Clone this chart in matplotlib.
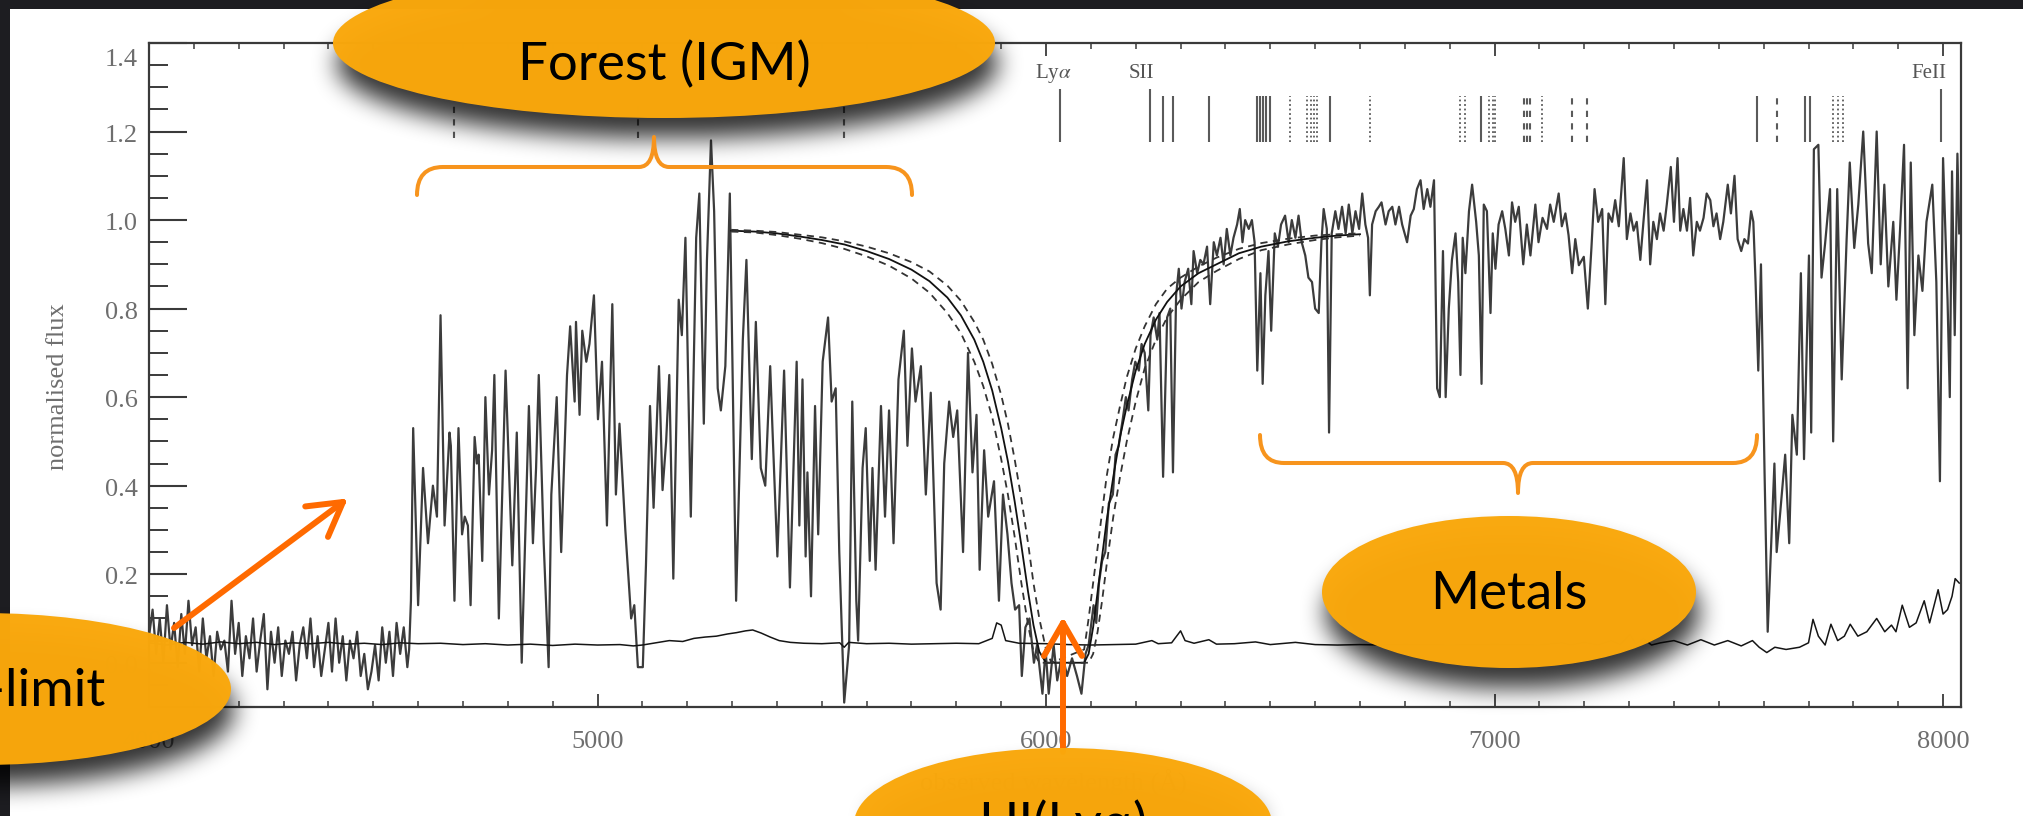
import numpy as np
import matplotlib
matplotlib.use("Agg")
import matplotlib.pyplot as plt
from matplotlib.patches import Ellipse, Rectangle, PathPatch
from matplotlib.path import Path
from matplotlib.ticker import MultipleLocator

plt.rcParams['mathtext.fontset'] = 'stix'

# ---------------------------------------------------------------- data
spec_lyman_limit = [
    (4000, 0.06), (4008, 0.12), (4016, 0.02), (4024, 0.10), (4032, 0.00), (4040, 0.13),
    (4048, 0.03), (4056, 0.09), (4064, -0.01), (4072, 0.11), (4080, 0.02), (4088, 0.14),
    (4096, 0.04), (4104, 0.08), (4112, -0.02), (4120, 0.10), (4128, 0.01), (4136, 0.06),
    (4144, -0.03), (4152, 0.07), (4160, 0.03), (4168, 0.05), (4176, -0.02), (4184, 0.14),
    (4192, 0.02), (4200, 0.09), (4208, -0.03), (4216, 0.06), (4224, 0.01), (4232, 0.10),
    (4240, -0.02), (4248, 0.05), (4256, 0.11), (4264, -0.06), (4272, 0.07), (4280, 0.00),
    (4288, 0.08), (4296, -0.03), (4304, 0.05), (4312, 0.02), (4320, 0.07), (4328, -0.04),
    (4336, 0.04), (4344, 0.08), (4352, 0.01), (4360, 0.10), (4368, -0.01), (4376, 0.06),
    (4384, -0.03), (4392, 0.03), (4400, 0.09), (4408, -0.02), (4416, 0.10), (4424, 0.00),
    (4432, 0.06), (4440, -0.04), (4448, 0.05), (4456, 0.01), (4464, 0.07), (4472, -0.03),
    (4480, 0.02), (4488, -0.06), (4496, -0.02), (4504, 0.04), (4512, -0.04), (4520, 0.08),
    (4528, 0.00), (4536, 0.07), (4544, -0.03), (4552, 0.09), (4560, 0.02), (4568, 0.08),
    (4576, -0.01),
]
spec_forest = [
    (4580, 0.03), (4584, 0.14), (4589, 0.53), (4600, 0.13), (4611, 0.44), (4622, 0.27),
    (4633, 0.40), (4642, 0.33), (4650, 0.785), (4659, 0.31), (4670, 0.52), (4673, 0.49),
    (4681, 0.14), (4690, 0.53), (4698, 0.29), (4704, 0.33), (4711, 0.31), (4717, 0.13),
    (4726, 0.51), (4731, 0.45), (4735, 0.47), (4743, 0.23), (4750, 0.60), (4758, 0.38),
    (4765, 0.48), (4770, 0.65), (4780, 0.10), (4795, 0.66), (4810, 0.22), (4820, 0.52),
    (4831, 0.00), (4847, 0.58), (4856, 0.27), (4863, 0.44), (4869, 0.65), (4880, 0.27),
    (4891, -0.01), (4897, 0.38), (4909, 0.60), (4919, 0.25), (4932, 0.65), (4939, 0.76),
    (4949, 0.59), (4952, 0.77), (4960, 0.56), (4966, 0.75), (4975, 0.68), (4982, 0.72),
    (4992, 0.83), (5001, 0.55), (5010, 0.68), (5021, 0.31), (5033, 0.81), (5041, 0.38),
    (5049, 0.54), (5062, 0.30), (5075, 0.10), (5082, 0.13), (5090, -0.01), (5101, -0.01),
    (5108, 0.22), (5117, 0.58), (5125, 0.35), (5137, 0.67), (5145, 0.39), (5153, 0.50),
    (5160, 0.65), (5169, 0.19), (5181, 0.82), (5188, 0.74), (5196, 0.96), (5208, 0.33),
    (5220, 0.96), (5227, 1.06), (5237, 0.54), (5244, 0.91), (5253, 1.18), (5260, 1.02),
    (5268, 0.62), (5275, 0.57), (5285, 0.67), (5295, 1.06), (5309, 0.14), (5324, 0.73),
    (5332, 0.91), (5344, 0.46), (5353, 0.77), (5364, 0.44), (5374, 0.40), (5385, 0.67),
    (5390, 0.53), (5401, 0.24), (5416, 0.66), (5429, 0.17), (5444, 0.68), (5450, 0.31),
    (5457, 0.64), (5464, 0.24), (5468, 0.43), (5476, 0.15), (5485, 0.58), (5492, 0.29),
    (5502, 0.68), (5514, 0.78), (5522, 0.59), (5531, 0.62), (5539, 0.25), (5550, -0.09),
    (5561, 0.04), (5568, 0.59), (5577, 0.14), (5581, 0.05), (5591, 0.44), (5598, 0.53),
    (5607, 0.23), (5613, 0.44), (5620, 0.21), (5632, 0.58), (5641, 0.33), (5650, 0.57),
    (5660, 0.27), (5671, 0.64), (5683, 0.75), (5691, 0.49), (5701, 0.71), (5709, 0.59),
    (5721, 0.67), (5732, 0.38), (5743, 0.61), (5756, 0.18), (5765, 0.12), (5773, 0.45),
    (5784, 0.59), (5793, 0.51), (5802, 0.57), (5815, 0.25), (5826, 0.70), (5836, 0.43),
    (5845, 0.56), (5852, 0.21), (5862, 0.48), (5871, 0.33), (5884, 0.41), (5895, 0.14),
    (5904, 0.38), (5914, 0.29), (5923, 0.18), (5931, 0.12), (5940, 0.13), (5946, -0.03),
    (5954, 0.08), (5963, 0.10), (5973, 0.00), (5980, 0.04),
]
spec_dla = [
    (5992, -0.07), (5999, 0.03), (6006, -0.07), (6017, 0.04), (6025, -0.04), (6036, 0.02),
    (6047, -0.03), (6058, 0.01), (6069, -0.03), (6079, -0.07), (6088, 0.02), (6095, 0.04),
    (6106, 0.13), (6112, 0.09), (6118, 0.18), (6125, 0.23), (6132, 0.25), (6140, 0.36),
    (6149, 0.38), (6155, 0.47), (6162, 0.49), (6171, 0.55), (6178, 0.60), (6184, 0.57),
    (6192, 0.64), (6199, 0.68), (6207, 0.66), (6213, 0.72), (6220, 0.70), (6228, 0.57),
    (6233, 0.74), (6240, 0.78), (6248, 0.73), (6253, 0.79), (6261, 0.42), (6270, 0.78),
    (6277, 0.80), (6283, 0.43), (6290, 0.83), (6296, 0.89), (6302, 0.80), (6309, 0.86),
    (6317, 0.89), (6324, 0.81), (6329, 0.93), (6337, 0.88), (6344, 0.91), (6351, 0.90),
    (6359, 0.94), (6366, 0.81), (6374, 0.95), (6381, 0.92), (6389, 0.96), (6396, 0.90),
    (6403, 0.98), (6411, 0.92), (6418, 0.96), (6426, 0.99), (6432, 1.025), (6438, 0.95),
    (6444, 1.00), (6452, 0.98), (6459, 1.00), (6465, 0.95),
]
spec_metals = [
    (6471, 0.66), (6478, 0.88), (6483, 0.63), (6489, 0.83), (6496, 0.93), (6502, 0.75),
    (6510, 0.97), (6517, 0.94), (6524, 0.99), (6533, 1.01), (6541, 0.95), (6548, 1.00),
    (6556, 0.96), (6563, 1.01), (6570, 0.95), (6578, 0.92), (6585, 0.87), (6593, 0.86),
    (6600, 0.80), (6608, 0.79), (6614, 0.95), (6619, 1.025), (6626, 0.98), (6631, 0.52),
    (6637, 0.97), (6645, 1.02), (6652, 0.98), (6660, 1.03), (6668, 0.97), (6675, 1.035),
    (6683, 0.97), (6690, 1.02), (6698, 0.98), (6705, 1.06), (6712, 0.99), (6718, 0.96),
    (6722, 0.83), (6727, 0.99), (6735, 1.02), (6742, 1.03), (6748, 1.04), (6757, 0.99),
    (6764, 1.02), (6772, 1.03), (6779, 0.99), (6787, 1.03), (6794, 0.99), (6805, 0.95),
    (6813, 1.01), (6820, 1.025), (6827, 1.07), (6835, 1.09), (6842, 1.025), (6850, 1.07),
    (6857, 1.03), (6865, 1.09), (6872, 0.62), (6878, 0.60), (6885, 0.93), (6891, 0.60),
    (6898, 0.80), (6905, 0.91), (6913, 0.97), (6919, 0.86), (6924, 0.65), (6929, 0.96),
    (6935, 0.88), (6943, 1.02), (6950, 1.08), (6959, 0.996), (6965, 0.92), (6971, 0.63),
    (6976, 1.035), (6983, 1.02), (6991, 0.79), (6996, 0.97), (7002, 0.89), (7009, 0.99),
    (7017, 1.02), (7024, 0.98), (7032, 0.92), (7039, 1.04), (7046, 0.996), (7054, 1.03),
    (7064, 0.90), (7072, 0.99), (7080, 0.92), (7091, 1.035), (7098, 0.95), (7107, 1.005),
    (7117, 0.98), (7124, 1.035), (7132, 0.996), (7143, 1.06), (7150, 0.986), (7158, 1.015),
    (7165, 0.966), (7173, 0.88), (7180, 0.957), (7188, 0.898), (7199, 0.917), (7208, 0.80),
    (7216, 0.937), (7223, 1.07), (7231, 0.996), (7240, 1.025), (7247, 0.81), (7254, 1.015),
    (7262, 0.996), (7269, 1.045), (7277, 0.986), (7288, 1.14), (7295, 0.957), (7303, 1.015),
    (7310, 0.976), (7317, 0.996), (7325, 0.91), (7332, 0.996), (7340, 1.09), (7347, 0.90),
    (7354, 0.996), (7362, 0.957), (7369, 1.015), (7377, 0.976), (7384, 1.035), (7393, 1.12),
    (7400, 0.996), (7408, 1.14), (7414, 0.976), (7421, 1.025), (7429, 0.976), (7436, 1.05),
    (7443, 0.92), (7451, 0.996), (7458, 0.976), (7466, 1.005), (7473, 1.06), (7481, 1.045),
    (7488, 0.986), (7495, 1.015), (7503, 0.957), (7510, 0.996), (7520, 1.08), (7527, 1.015),
    (7535, 1.10), (7542, 0.957), (7550, 0.93), (7557, 0.957), (7565, 0.947), (7572, 1.02),
    (7577, 0.996),
]
spec_red = [
    (7582, 0.86), (7588, 0.66), (7594, 0.90), (7602, 0.43), (7609, 0.07), (7616, 0.25),
    (7624, 0.45), (7629, 0.25), (7637, 0.34), (7648, 0.47), (7657, 0.27), (7664, 0.56),
    (7674, 0.47), (7683, 0.88), (7690, 0.46), (7701, 0.92), (7706, 0.52), (7712, 1.16),
    (7722, 1.17), (7729, 0.87), (7737, 0.947), (7748, 1.07), (7755, 0.50), (7764, 1.07),
    (7774, 0.64), (7785, 0.957), (7792, 1.13), (7802, 0.937), (7811, 1.035), (7822, 1.20),
    (7833, 0.947), (7841, 0.88), (7852, 1.20), (7861, 0.90), (7869, 1.08), (7878, 0.85),
    (7889, 0.996), (7896, 0.82), (7904, 0.976), (7913, 1.17), (7921, 0.62), (7928, 1.13),
    (7936, 0.74), (7945, 0.92), (7954, 0.84), (7963, 0.996), (7976, 1.08), (7985, 0.86),
    (7993, 0.41), (8000, 1.14), (8010, 0.82), (8015, 0.60), (8020, 1.11), (8026, 0.74),
    (8032, 1.15), (8036, 0.97),
]
sigma_spec = [
    (4000, .045), (4040, .040), (4080, .046), (4120, .042), (4160, .047), (4200, .043),
    (4240, .046), (4280, .041), (4320, .045), (4360, .043), (4400, .046), (4440, .042),
    (4480, .044), (4520, .041), (4560, .045), (4600, .043), (4650, .044), (4700, .041),
    (4750, .043), (4800, .040), (4850, .042), (4900, .039), (4950, .042), (5000, .040),
    (5050, .041), (5080, .038), (5100, .040), (5130, .045), (5160, .050), (5190, .048),
    (5215, .055), (5240, .058), (5265, .060), (5290, .065), (5310, .068), (5330, .072),
    (5346, .074), (5365, .067), (5385, .058), (5405, .050), (5430, .046), (5460, .044),
    (5500, .043), (5540, .045), (5550, .035), (5560, .046), (5600, .043), (5650, .044),
    (5700, .042), (5750, .043), (5800, .044), (5850, .043), (5880, .055), (5890, .090),
    (5900, .085), (5910, .050), (5940, .044), (6000, .043), (6050, .041), (6100, .040),
    (6150, .041), (6200, .042), (6236, .050), (6250, .043), (6280, .045), (6300, .072),
    (6310, .050), (6330, .044), (6363, .052), (6380, .042), (6420, .043), (6467, .047),
    (6500, .041), (6556, .046), (6600, .041), (6650, .040), (6700, .041), (6750, .040),
    (6800, .041), (6900, .040), (7000, .041), (7100, .040), (7150, .045), (7170, .040),
    (7200, .046), (7230, .040), (7260, .050), (7280, .041), (7302, .064), (7315, .042),
    (7332, .055), (7350, .040), (7370, .045), (7400, .050), (7430, .040), (7460, .052),
    (7490, .040), (7520, .050), (7550, .038), (7575, .050), (7590, .035), (7607, .023),
    (7625, .035), (7650, .030), (7680, .035), (7700, .045), (7710, .098), (7722, .060),
    (7737, .040), (7750, .087), (7765, .050), (7780, .060), (7793, .087), (7810, .060),
    (7830, .070), (7852, .100), (7870, .070), (7885, .085), (7895, .070), (7909, .130),
    (7925, .080), (7940, .090), (7958, .140), (7970, .090), (7989, .165), (8000, .110),
    (8010, .120), (8020, .150), (8027, .190), (8036, .180),
]
# Voigt-profile fit (solid) and its two error envelopes (dashed)
model_wave = [5298, 5350, 5400, 5450, 5500, 5550, 5600, 5650, 5700, 5740, 5780, 5810,
              5840, 5860, 5880, 5900, 5915, 5930, 5945, 5960, 5972, 5985, 6000, 6012,
              6085, 6095, 6105, 6115, 6125, 6135, 6150, 6165, 6180, 6200, 6220, 6245,
              6270, 6300, 6340, 6380, 6430, 6480, 6540, 6600, 6650, 6700]
model_flux = [.976, .974, .970, .963, .955, .945, .930, .912, .888, .862, .825, .785,
              .730, .680, .615, .530, .455, .365, .265, .160, .085, .025, .000, .000,
              .000, .020, .080, .160, .240, .320, .420, .510, .580, .660, .720, .775,
              .815, .850, .880, .900, .925, .940, .952, .960, .965, .968]
model_upper = [.978, .976, .973, .967, .961, .952, .940, .925, .905, .884, .852, .818,
               .770, .730, .675, .605, .540, .460, .370, .270, .180, .100, .030, .000,
               .030, .100, .180, .260, .340, .420, .510, .580, .645, .710, .760, .810,
               .845, .870, .895, .915, .935, .948, .958, .965, .968, .970]
model_lower = [.974, .972, .966, .958, .948, .935, .918, .897, .868, .836, .790, .745,
               .680, .625, .555, .460, .380, .285, .180, .085, .025, .000, .000, .000,
               .000, .000, .020, .070, .140, .220, .330, .420, .500, .590, .665, .730,
               .780, .820, .860, .885, .912, .932, .945, .955, .961, .965]
# absorption-line markers along the top
marks_solid = [6261, 6283, 6364, 6470, 6477, 6484, 6491, 6500, 6634, 6969, 7585, 7692, 7703]
marks_tall = [6032, 6231, 7995]
marks_dotted = [6544, 6582, 6590, 6597, 6604, 6722, 6924, 6935, 6987, 6996, 7002, 7106,
                7755, 7766, 7778]
marks_dashed = [7065, 7072, 7080, 7173, 7206, 7629]
marks_forest = [4681, 5090, 5550]
mark_labels = [("Ly$\\alpha$", 6016), ("SII", 6212), ("FeII", 7969)]
x_ticks = [4000, 5000, 6000, 7000, 8000]
y_ticks = [0.0, 0.2, 0.4, 0.6, 0.8, 1.0, 1.2, 1.4]

# ---------------------------------------------------------------- figure
W, H = 2023, 816
ORANGE = '#FAA80C'
BRACE = '#F7941D'
ARROW = '#FF6A00'
GREY_TXT = '#6e6e6e'
SERIF = ['Liberation Serif', 'DejaVu Serif']
SANS = ['Lato', 'DejaVu Sans']

fig = plt.figure(figsize=(W / 100, H / 100), dpi=100)
fig.patch.set_facecolor('#1d1d21')
fig.add_artist(Rectangle((10 / W, 0), 1, 1 - 9 / H, transform=fig.transFigure,
                         facecolor='white', edgecolor='none', zorder=-10))

ax = fig.add_axes([149 / W, 1 - 707 / H, (1961 - 149) / W, (707 - 43) / H])
ax.patch.set_alpha(0)
ax.set_xlim(4000, 8040)
ax.set_ylim(-0.1, 1.4)

spec = np.array(spec_lyman_limit + spec_forest + spec_dla + spec_metals + spec_red)
ax.plot(spec[:, 0], spec[:, 1], color='#3c3c3c', lw=1.6, zorder=3)
sig = np.array(sigma_spec)
ax.plot(sig[:, 0], sig[:, 1], color='#151515', lw=1.1, zorder=4)
ax.plot(model_wave, model_flux, color='#111111', lw=1.3, zorder=5)
ax.plot(model_wave, model_upper, color='#333333', lw=1.3, ls=(0, (4, 3)), zorder=5)
ax.plot(model_wave, model_lower, color='#333333', lw=1.3, ls=(0, (4, 3)), zorder=5)

ax.vlines(marks_solid, 1.177, 1.28, colors='#5a5a5a', lw=1.5)
ax.vlines(marks_tall, 1.177, 1.295, colors='#5a5a5a', lw=1.5)
ax.vlines(marks_dotted, 1.177, 1.28, colors='#5a5a5a', lw=1.3, linestyles=(0, (1, 1.5)))
ax.vlines(marks_dashed, 1.177, 1.28, colors='#5a5a5a', lw=1.5, linestyles=(0, (3, 3)))
ax.vlines(marks_forest, 1.185, 1.27, colors='#5a5a5a', lw=1.5, linestyles=(0, (3, 3)))
for lab, lx in mark_labels:
    ax.text(lx, 1.332, lab, ha='center', va='center', fontsize=15, color='#555555',
            family=SERIF)

for s in ax.spines.values():
    s.set_color('#3a3a3a')
    s.set_linewidth(1.6)
ax.xaxis.set_major_locator(MultipleLocator(1000))
ax.xaxis.set_minor_locator(MultipleLocator(100))
ax.yaxis.set_major_locator(MultipleLocator(0.2))
ax.yaxis.set_minor_locator(MultipleLocator(0.05))
ax.tick_params(axis='x', which='both', direction='in', top=True, bottom=True,
               labelbottom=False, colors='#3a3a3a')
ax.tick_params(axis='x', which='major', length=9.5, width=1.3)
ax.tick_params(axis='x', which='minor', length=4.5, width=1.1)
ax.tick_params(axis='y', which='both', direction='in', left=True, right=False,
               labelleft=False, colors='#3a3a3a')
ax.tick_params(axis='y', which='major', length=27, width=1.5)
ax.tick_params(axis='y', which='minor', length=13.5, width=1.4)

for v in y_ticks:
    dy = -12.2 if v == 1.4 else -3.0
    ax.annotate(f'{v:.1f}', xy=(0, v), xycoords=('axes fraction', 'data'),
                xytext=(-8, dy), textcoords='offset points', ha='right', va='center',
                fontsize=19, color=GREY_TXT, family=SERIF)
for v in x_ticks:
    ax.annotate(f'{v}', xy=(v, 0), xycoords=('data', 'axes fraction'),
                xytext=(0, -25), textcoords='offset points', ha='center', va='center',
                fontsize=19, color=GREY_TXT, family=SERIF)

# ---------------------------------------------------------------- overlay (pixel coords)
ov = fig.add_axes([0, 0, 1, 1], zorder=10)
ov.set_xlim(0, W)
ov.set_ylim(H, 0)
ov.axis('off')
ov.patch.set_alpha(0)

ov.text(58, 387, 'normalised flux', rotation=90, ha='center', va='center',
        fontsize=19, color=GREY_TXT, family=SERIF, zorder=0)
ov.text(1053, 783, 'observed wavelength (Å)', ha='center', va='center',
        fontsize=19, color=GREY_TXT, family=SERIF, zorder=0)

ellipses = [  # (cx, cy, width, height)
    (664, 43, 662, 150),
    (-19, 689, 500, 152),
    (1063, 824, 418, 152),
    (1509, 592, 374, 152),
]

# soft drop shadow
yy, xx = np.mgrid[0:H, 0:W].astype(float)
mask = np.zeros((H, W))
for cx, cy, w, h in ellipses:
    mask = np.maximum(mask, (((xx - cx - 3) / (w / 2)) ** 2 +
                             ((yy - cy - 20) / (h / 2)) ** 2 <= 1).astype(float))


def box_blur(a, r, axis):
    a = np.moveaxis(a, axis, -1)
    p = np.pad(a, [(0, 0)] * (a.ndim - 1) + [(r + 1, r)], mode='edge')
    c = np.cumsum(p, axis=-1)
    out = (c[..., 2 * r + 1:] - c[..., :-2 * r - 1]) / (2 * r + 1)
    return np.moveaxis(out, -1, axis)


blur = mask
for _ in range(3):
    blur = box_blur(box_blur(blur, 11, 0), 11, 1)
rgba = np.zeros((H, W, 4))
rgba[..., 3] = np.clip(blur * 0.8, 0, 1)
ov.imshow(rgba, extent=(0, W, H, 0), origin='upper', zorder=1, interpolation='bilinear')
ov.set_xlim(0, W)
ov.set_ylim(H, 0)
ov.set_aspect('auto')


# braces
def brace(x0, x1, xm, ybase, yend, ytip, r=26, tip=15):
    verts = [(x0, yend), (x0, ybase), (x0 + r, ybase),
             (xm - tip, ybase), (xm, ybase), (xm, ytip),
             (xm, ybase), (xm + tip, ybase),
             (x1 - r, ybase), (x1, ybase), (x1, yend)]
    codes = [Path.MOVETO, Path.CURVE3, Path.CURVE3,
             Path.LINETO, Path.CURVE3, Path.CURVE3,
             Path.CURVE3, Path.CURVE3,
             Path.LINETO, Path.CURVE3, Path.CURVE3]
    ov.add_patch(PathPatch(Path(verts, codes), fill=False, edgecolor=BRACE, lw=2.9,
                           capstyle='round', joinstyle='round', zorder=2))


brace(417, 912, 654, 167, 195, 137)
brace(1260, 1757, 1518, 463, 435, 493, r=24)


# arrows
def arrow(x0, y0, x1, y1, L=38, ang=30):
    ov.plot([x0, x1], [y0, y1], color=ARROW, lw=4.3, solid_capstyle='round', zorder=2)
    d = np.array([x1 - x0, y1 - y0], float)
    d /= np.hypot(*d)
    for a in (ang, -ang):
        t = np.radians(a)
        rd = np.array([d[0] * np.cos(t) - d[1] * np.sin(t), d[0] * np.sin(t) + d[1] * np.cos(t)])
        ov.plot([x1, x1 - L * rd[0]], [y1, y1 - L * rd[1]], color=ARROW, lw=4.3,
                solid_capstyle='round', zorder=2)


arrow(174, 628, 343, 502)
arrow(1063, 752, 1063, 623)

for cx, cy, w, h in ellipses:
    ov.add_patch(Ellipse((cx, cy), w, h, facecolor=ORANGE, edgecolor='none',
                         alpha=0.985, zorder=3))

ov.text(664, 80, 'Forest (IGM)', ha='center', va='baseline', fontsize=38,
        family=SANS, color='black', zorder=4)
ov.text(105, 706, 'Lyman-limit', ha='right', va='baseline', fontsize=38,
        family=SANS, color='black', zorder=4)
ov.text(1063, 840, 'HI(Lyα)', ha='center', va='baseline', fontsize=38,
        family=SANS, color='black', zorder=4)
ov.text(1509, 609, 'Metals', ha='center', va='baseline', fontsize=38,
        family=SANS, color='black', zorder=4)

fig.savefig('out.png', dpi=100, facecolor=fig.get_facecolor())
